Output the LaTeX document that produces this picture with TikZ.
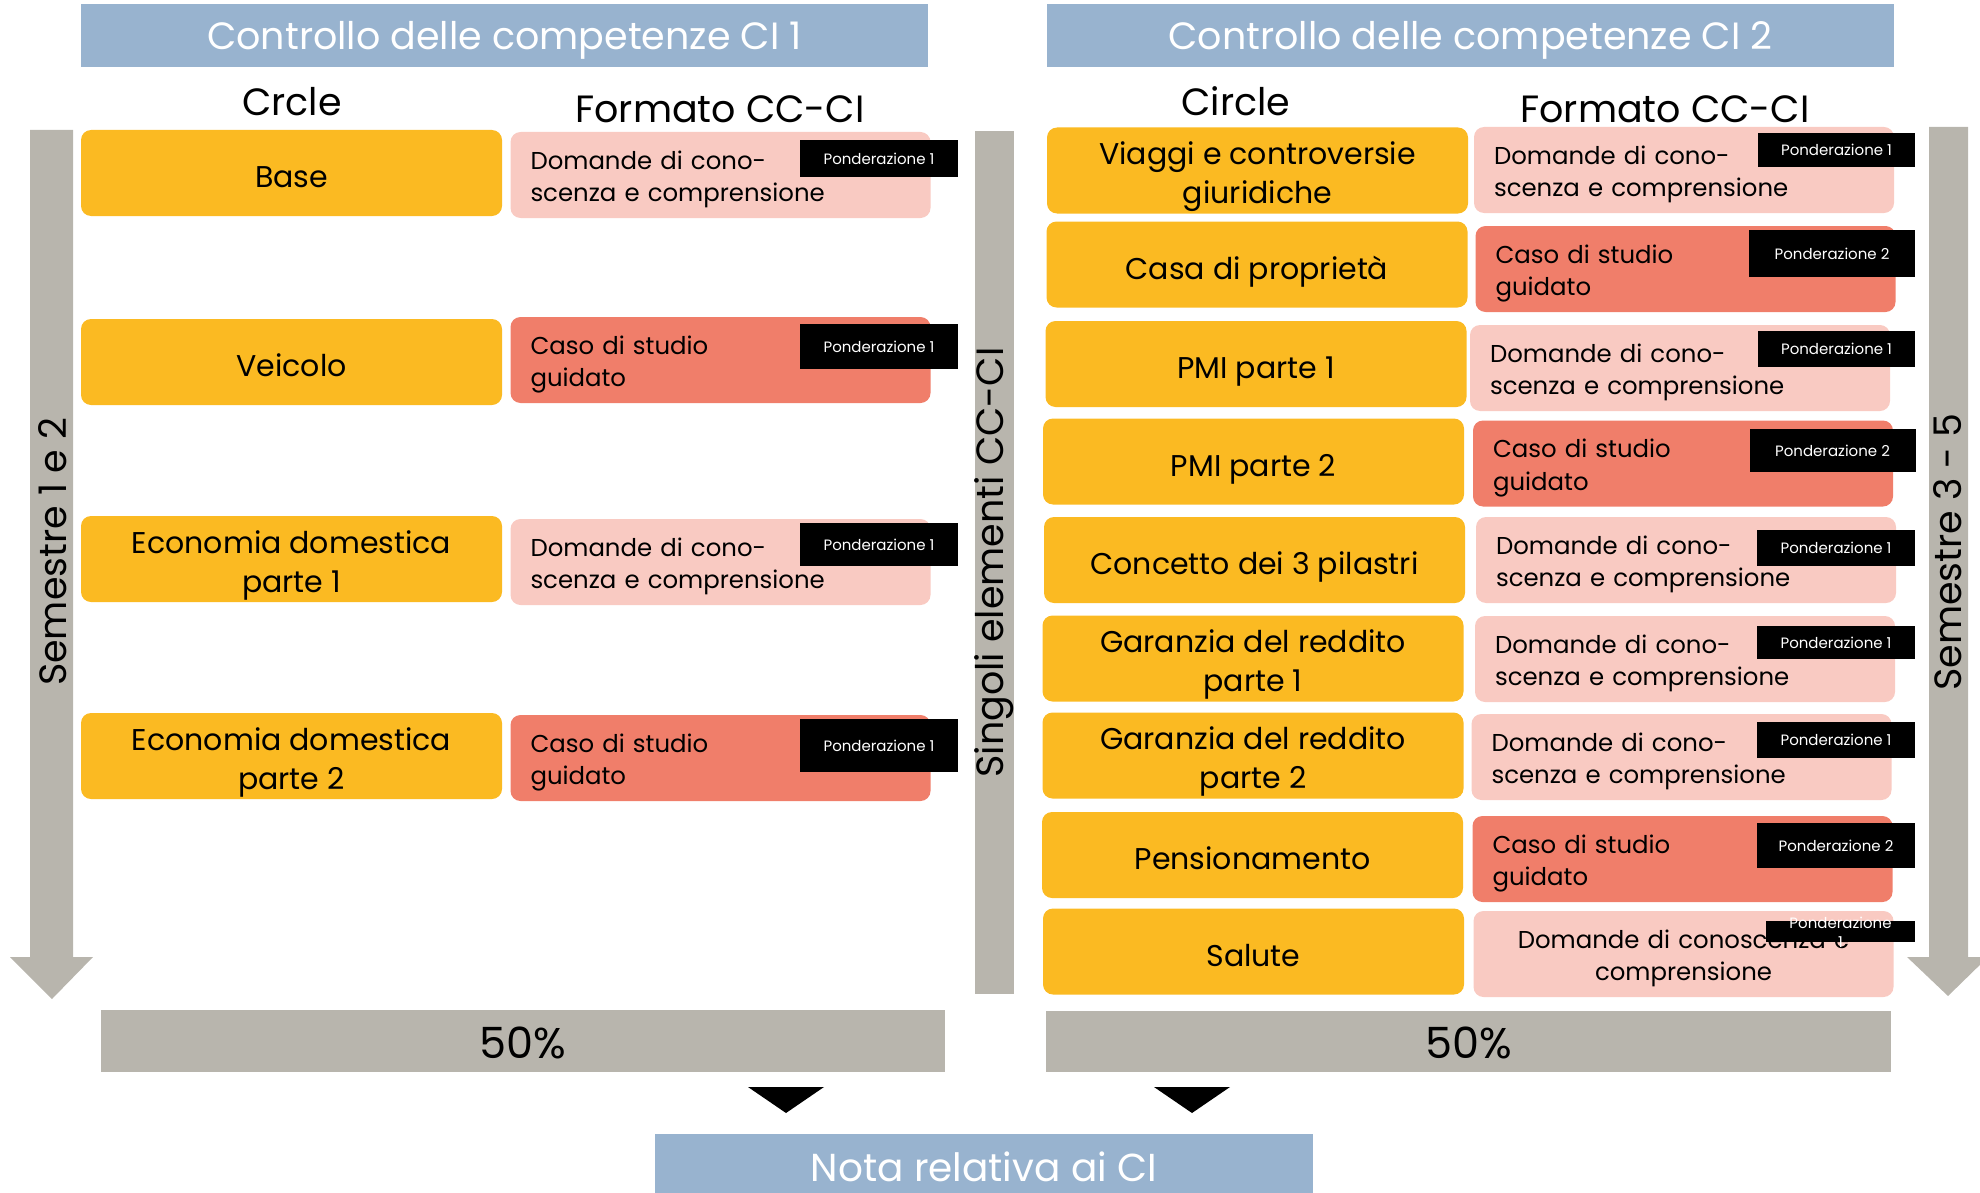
\documentclass[tikz,border=0pt]{standalone}
\usepackage{fontspec}
\setmainfont{Poppins}
\definecolor{cyel}{HTML}{FBBA22}
\definecolor{cpink}{HTML}{F9CAC2}
\definecolor{csalm}{HTML}{F07E6A}
\definecolor{cgray}{HTML}{B8B5AD}
\definecolor{cblue}{HTML}{98B3CF}
\newcommand\mystrut{\rule{0pt}{17.5pt}}
\tikzset{
 wh/.style 2 args={minimum width=#1*0.5pt, minimum height=#2*0.5pt},
 hdr/.style={fill=cblue, text=white, inner sep=0pt, text height=13.3pt, text depth=0pt, font=\fontsize{19}{22}\selectfont},
 coltitle/.style={font=\fontsize{19}{22}\selectfont, inner sep=0pt, anchor=base},
 circ/.style={fill=cyel, rounded corners=5pt, inner sep=0pt, align=center, minimum width=210.5pt, minimum height=43pt,
   font=\fontsize{15}{19.5}\selectfont,
   execute at begin node={\rule{0pt}{18.5pt}}, execute at end node={\rule[-4pt]{0pt}{4pt}}},
 circtwo/.style={fill=cyel, rounded corners=5pt, inner sep=0pt, align=center, minimum width=210.5pt, minimum height=43pt,
   font=\fontsize{15}{19.5}\selectfont},
 fmt/.style={rounded corners=5pt, inner xsep=10pt, inner ysep=0pt, align=left, text width=190pt, minimum height=43pt,
   font=\fontsize{12.2}{16.4}\selectfont,
   execute at begin node={\rule{0pt}{14pt}}, execute at end node={\rule[-3.5pt]{0pt}{3.5pt}}},
 fmtA/.style={fmt, fill=cpink},
 fmtB/.style={fmt, fill=csalm},
 pond/.style={fill=black, text=white, inner sep=0pt, font=\fontsize{7.5}{9.5}\selectfont},
 bar/.style={fill=cgray, inner sep=0pt},
 pct/.style={bar, text height=17.5pt, text depth=0pt, font=\fontsize{21.5}{24}\selectfont},
 vtext/.style={rotate=90, inner sep=0pt},
}
\begin{document}
\begin{tikzpicture}[x=0.5pt,y=-0.5pt]
\useasboundingbox (0,0) rectangle (1980,1193);
% side arrows
\fill[cgray] (30,130) -- (73,130) -- (73,957) -- (93,957) -- (52,999) -- (10,957) -- (30,957) -- cycle;
\fill[cgray] (1929,127) -- (1968,127) -- (1968,957) -- (1988,957) -- (1948,996) -- (1907,957) -- (1929,957) -- cycle;
\node[vtext, font=\fontsize{19}{22}\selectfont] (sem1) at (53,552) {Semestre 1 e 2};
\node[vtext, font=\fontsize{19}{22}\selectfont] (sem2) at (1948,552) {Semestre 3 - 5};
% middle bar
\node[bar, wh={39}{863}] (sg) at (994.5,562.5) {};
\node[vtext, font=\fontsize{19}{22}\selectfont] (sgt) at (sg.center) {Singoli elementi CC-CI};
% headers
\node[hdr, wh={847}{63}] (h1) at (504.5,36) {Controllo delle competenze CI 1};
\node[hdr, wh={847}{63}] (h2) at (1470.5,36) {Controllo delle competenze CI 2};
\node[coltitle] (t1a) at (292,116) {Crcle};
\node[coltitle] (t1b) at (720,123) {Formato CC-CI};
\node[coltitle] (t2a) at (1236,116) {Circle};
\node[coltitle] (t2b) at (1665,123) {Formato CC-CI};
% left column
\node[circ] (a1) at (291.5,173) {Base};
\node[circ] (a2) at (291.5,362) {Veicolo};
\node[circtwo] (a3) at (291.5,559) {\mystrut Economia domestica\\parte 1};
\node[circtwo] (a4) at (291.5,756) {\mystrut Economia domestica\\parte 2};
\node[fmtA] (f1) at (720.5,175) {Domande di cono-\\scenza e comprensione};
\node[fmtB] (f2) at (720.5,360) {Caso di studio\\guidato};
\node[fmtA] (f3) at (720.5,562) {Domande di cono-\\scenza e comprensione};
\node[fmtB] (f4) at (720.5,758) {Caso di studio\\guidato};
\node[pond, wh={158}{37}] (p1) at (879,158.5) {Ponderazione 1};
\node[pond, wh={158}{45}] (p2) at (879,346.5) {Ponderazione 1};
\node[pond, wh={158}{43}] (p3) at (879,544.5) {Ponderazione 1};
\node[pond, wh={158}{53}] (p4) at (879,745.5) {Ponderazione 1};
% right column
\node[circtwo] (b1) at (1257.5,170.5) {\mystrut Viaggi e controversie\\giuridiche};
\node[circ] (b2) at (1257,264.5) {Casa di proprietà};
\node[circ] (b3) at (1256,364) {PMI parte 1};
\node[circ] (b4) at (1253.5,461.5) {PMI parte 2};
\node[circ] (b5) at (1254.5,560) {Concetto dei 3 pilastri};
\node[circtwo] (b6) at (1253,658.5) {\mystrut Garanzia del reddito\\parte 1};
\node[circtwo] (b7) at (1253,755.5) {\mystrut Garanzia del reddito\\parte 2};
\node[circ] (b8) at (1252.5,855) {Pensionamento};
\node[circ] (b9) at (1253.5,951.5) {Salute};
\node[fmtA] (g1) at (1684,170) {Domande di cono-\\scenza e comprensione};
\node[fmtB] (g2) at (1685.5,269) {Caso di studio\\guidato};
\node[fmtA] (g3) at (1680,368) {Domande di cono-\\scenza e comprensione};
\node[fmtB] (g4) at (1683,463.5) {Caso di studio\\guidato};
\node[fmtA] (g5) at (1686,560) {Domande di cono-\\scenza e comprensione};
\node[fmtA] (g6) at (1685,659) {Domande di cono-\\scenza e comprensione};
\node[fmtA] (g7) at (1681.5,757) {Domande di cono-\\scenza e comprensione};
\node[fmtB] (g8) at (1682.5,859) {Caso di studio\\guidato};
\node[fmtA, align=center] (g9) at (1683.5,954) {Domande di conoscenza e\\comprensione};
\node[pond, wh={157}{34}] (q1) at (1836.5,150) {Ponderazione 1};
\node[pond, wh={166}{47}] (q2) at (1832,253.5) {Ponderazione 2};
\node[pond, wh={157}{36}] (q3) at (1836.5,349) {Ponderazione 1};
\node[pond, wh={166}{43}] (q4) at (1832.5,450.5) {Ponderazione 2};
\node[pond, wh={158}{36}] (q5) at (1836,548) {Ponderazione 1};
\node[pond, wh={158}{33}] (q6) at (1836,642.5) {Ponderazione 1};
\node[pond, wh={158}{36}] (q7) at (1836,740) {Ponderazione 1};
\node[pond, wh={158}{45}] (q8) at (1836,845.5) {Ponderazione 2};
\node[pond, wh={149}{21}] (q9) at (1840.5,931.5) {};
\node[text=white, inner sep=0pt, align=center, font=\fontsize{7.5}{9.5}\selectfont] (q9t) at (1840.5,932) {Ponderazione\\1};
% bottom
\node[pct, wh={844}{62}] (r1) at (523,1041) {50\%};
\node[pct, wh={845}{61}] (r2) at (1468.5,1041) {50\%};
\fill (748,1087) -- (824,1087) -- (786,1113) -- cycle;
\fill (1154,1087) -- (1230,1087) -- (1192,1113) -- cycle;
\node[hdr, text height=17.5pt, font=\fontsize{19.5}{22}\selectfont, wh={658}{60}] (nota) at (984,1164) {Nota relativa ai CI};
\end{tikzpicture}
\end{document}
